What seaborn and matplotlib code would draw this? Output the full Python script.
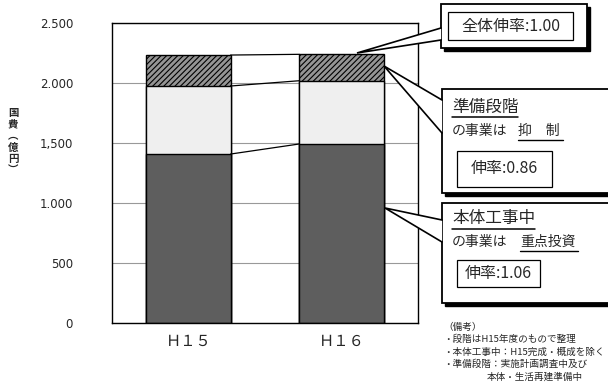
import matplotlib
matplotlib.use("Agg")
import matplotlib.pyplot as plt
import seaborn as sns
import pandas as pd
from matplotlib.patches import Rectangle, Polygon

# ---- data (億円) ----
years = ["Ｈ１５", "Ｈ１６"]
honntai = [1408, 1492]      # 本体工事中 (dark)
sonota = [567, 527]         # other (light)
junbi = [258, 220]          # 準備段階 (hatched)
yticks = [0, 500, 1000, 1500, 2000, 2500]
ytick_labels = ["0", "500", "1.000", "1,500", "2.000", "2.500"]

sns.set_theme(style="white")
plt.rcParams['font.family'] = ['Noto Sans CJK JP', 'DejaVu Sans']
plt.rcParams['hatch.linewidth'] = 0.8

W, H = 608, 386
fig = plt.figure(figsize=(W / 100, H / 100), dpi=100)
ax = fig.add_axes([112 / W, (H - 323) / H, 306 / W, 300 / H])

lvl1 = [a for a in honntai]
lvl2 = [a + b for a, b in zip(honntai, sonota)]
lvl3 = [a + b + c for a, b, c in zip(honntai, sonota, junbi)]
df = pd.DataFrame({"year": years, "l1": lvl1, "l2": lvl2, "l3": lvl3})

bw = 0.55
sns.barplot(data=df, x="year", y="l3", color="#959595", width=bw, ax=ax,
            edgecolor="black", linewidth=1.0, hatch="//////", saturation=1)
sns.barplot(data=df, x="year", y="l2", color="#efefef", width=bw, ax=ax,
            edgecolor="black", linewidth=1.0, saturation=1)
sns.barplot(data=df, x="year", y="l1", color="#5e5e5e", width=bw, ax=ax,
            edgecolor="black", linewidth=1.0, saturation=1)

# connector lines between bars
for lv in (lvl1, lvl2, lvl3):
    ax.plot([0 + bw / 2, 1 - bw / 2], lv, color="black", lw=0.9, zorder=5)

ax.set_xlim(-0.5, 1.5)
ax.set_ylim(0, 2500)
ax.set_yticks(yticks)
ax.set_yticklabels(ytick_labels, fontsize=8.5, family=['DejaVu Sans'])
ax.tick_params(axis='y', length=0, pad=28)
ax.tick_params(axis='x', length=0, pad=7, labelsize=11)
ax.set_xlabel("")
ax.set_ylabel("")
ax.yaxis.grid(True, color="#999999", lw=0.8)
ax.set_axisbelow(True)
for s in ax.spines.values():
    s.set_color("black")
    s.set_linewidth(1.0)

# y label (vertical text)
fig.text(13 / W, 1 - 142 / H, "国\n費\n︵\n億\n円\n︶", ha="center", va="center",
         fontsize=7.5, fontweight="bold", linespacing=1.2)

# ---- overlay for callouts (pixel coords) ----
ov = fig.add_axes([0, 0, 1, 1], facecolor="none")
ov.set_xlim(0, W)
ov.set_ylim(H, 0)
ov.axis("off")

def callout(x0, y0, x1, y1, p1, p2, tip):
    ov.add_patch(Rectangle((x0 + 3, y0 + 3), x1 - x0, y1 - y0, facecolor="black",
                           edgecolor="black", lw=1, zorder=2))
    ov.add_patch(Rectangle((x0, y0), x1 - x0, y1 - y0, facecolor="white",
                           edgecolor="black", lw=1.3, zorder=3))
    ov.add_patch(Polygon([(x0, p1), tip, (x0, p2)], closed=True, facecolor="white",
                         edgecolor="none", zorder=4))
    ov.add_patch(Polygon([(x0 + 1.5, p1 + 0.7), (x0 + 1.5, p2 - 0.7)], closed=False,
                         facecolor="none", edgecolor="white", lw=1.6, zorder=4))
    ov.plot([x0, tip[0], x0], [p1, tip[1], p2], color="black", lw=1.2, zorder=5,
            solid_joinstyle="miter")

def inner(x0, y0, x1, y1, txt, fs):
    ov.add_patch(Rectangle((x0, y0), x1 - x0, y1 - y0, facecolor="white",
                           edgecolor="black", lw=0.9, zorder=6))
    ov.text((x0 + x1) / 2, (y0 + y1) / 2, txt, ha="center", va="center",
            fontsize=fs, zorder=7)

# box 1
callout(441, 4, 587, 48, 28, 40, (357, 53))
inner(448, 12, 573, 40, "全体伸率:1.00", 11.5)

# box 2
callout(442, 89, 614, 193, 100, 133, (384, 66))
ov.text(452, 107, "準備段階", ha="left", va="center", fontsize=12, zorder=7)
ov.plot([452, 518], [117, 117], color="black", lw=1.1, zorder=7)
ov.text(452, 131, "の事業は", ha="left", va="center", fontsize=10, zorder=7)
ov.text(518, 131, "抑　制", ha="left", va="center", fontsize=10, zorder=7)
ov.plot([518, 563], [140, 140], color="black", lw=1.0, zorder=7)
inner(457, 151, 552, 187, "伸率:0.86", 11.5)

# box 3
callout(442, 203, 614, 303, 220, 242, (385, 208))
ov.text(452, 219, "本体工事中", ha="left", va="center", fontsize=12, zorder=7)
ov.plot([452, 535], [229, 229], color="black", lw=1.1, zorder=7)
ov.text(452, 242, "の事業は", ha="left", va="center", fontsize=10, zorder=7)
ov.text(520, 242, "重点投資", ha="left", va="center", fontsize=10, zorder=7)
ov.plot([520, 578], [251, 251], color="black", lw=1.0, zorder=7)
inner(457, 260, 540, 287, "伸率:1.06", 11.5)

# notes
notes = [
    (443, 327, "（備考）"),
    (443, 339, "・段階はH15年度のもので整理"),
    (443, 352, "・本体工事中：H15完成・概成を除く"),
    (443, 364, "・準備段階：実施計画調査中及び"),
    (487, 377, "本体・生活再建準備中"),
]
for x, y, t in notes:
    ov.text(x, y, t, ha="left", va="center", fontsize=6.9, zorder=7)

fig.savefig("out.png", dpi=100)
